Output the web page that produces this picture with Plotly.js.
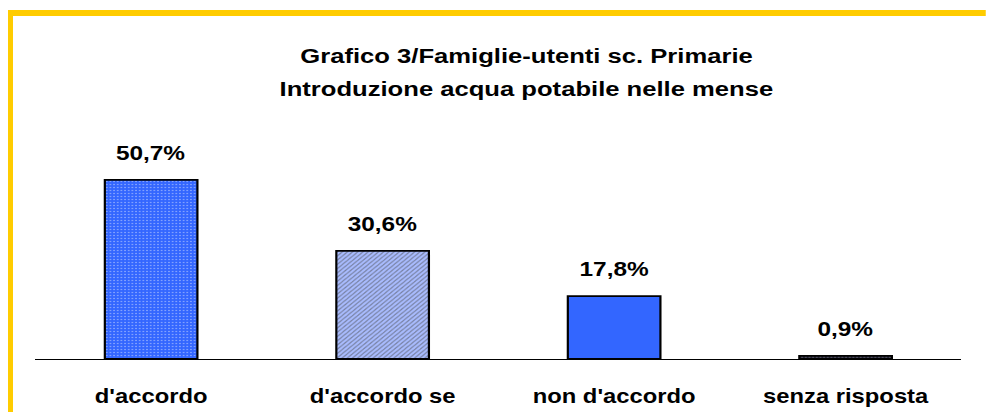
<!DOCTYPE html>
<html>
<head>
<meta charset="utf-8">
<script src="https://cdn.plot.ly/plotly-3.0.1.min.js"></script>
<style>
  html, body { margin: 0; padding: 0; background: #ffffff; overflow: hidden; }
  #chart { width: 808px; height: 412px; transform: scaleX(1.22); transform-origin: 0 0; }
</style>
</head>
<body>
<div id="chart"></div>
<script>
// ---- data ----
const categories = ["d'accordo", "d'accordo se", "non d'accordo", "senza risposta"];
const values = [50.7, 30.6, 17.8, 0.9];
const valueLabels = ["50,7%", "30,6%", "17,8%", "0,9%"];
const titleLine1 = "Grafico 3/Famiglie-utenti sc. Primarie";
const titleLine2 = "Introduzione acqua potabile nelle mense";

// ---- geometry (unscaled px) ----
const W = 808, H = 412;
const M = { l: 29, r: 20, t: 147, b: 53 };
const plotW = W - M.l - M.r, plotH = H - M.t - M.b;
const px = x => (x - M.l) / plotW;          // pixel x -> paper
const py = y => (H - M.b - y) / plotH;      // pixel y -> paper

const FONT = '"Liberation Sans", Arial, sans-serif';
const blue = '#3366FF';
const gold = '#FFCC00';

const trace = {
  type: 'bar',
  x: categories,
  y: values,
  width: 0.4,
  marker: {
    color: [blue, '#a9bcff', blue, '#222233'],
    line: { color: '#000000', width: 1.8 },
    pattern: {
      shape: ['.', '/', '', '.'],
      fgcolor: ['#6e8fff', '#3a6aff', blue, '#6680ff'],
      size: [3, 3, 3, 3],
      solidity: [0.15, 0.35, 0.3, 0.3],
      fillmode: 'overlay'
    }
  },
  hoverinfo: 'none'
};

const annotations = categories.map((c, i) => ({
  x: c, y: values[i], xref: 'x', yref: 'y',
  text: valueLabels[i], showarrow: false,
  yanchor: 'middle', yshift: 27,
  font: { family: FONT, size: 20, color: '#000000', weight: 'bold' }
}));
annotations.push({
  xref: 'paper', yref: 'paper', x: px(431.6), y: py(89),
  xanchor: 'center', yanchor: 'middle',
  text: titleLine2, showarrow: false,
  font: { family: FONT, size: 21, color: '#000000', weight: 'bold' }
});

const layout = {
  width: W, height: H,
  margin: M,
  paper_bgcolor: '#ffffff',
  plot_bgcolor: '#ffffff',
  showlegend: false,
  title: {
    text: titleLine1,
    xref: 'container', yref: 'container',
    x: 431.6 / W, y: 1 - 56 / H,
    xanchor: 'center', yanchor: 'middle',
    font: { family: FONT, size: 21, color: '#000000', weight: 'bold' }
  },
  xaxis: {
    type: 'category',
    showline: true, linecolor: '#000000', linewidth: 1,
    showgrid: false, zeroline: false,
    ticks: '', ticklabelstandoff: 20,
    tickfont: { family: FONT, size: 19.5, color: '#000000', weight: 'bold' },
    fixedrange: true
  },
  yaxis: {
    range: [0, 60],
    visible: false,
    showgrid: false, zeroline: false,
    fixedrange: true
  },
  annotations: annotations,
  shapes: [
    { type: 'rect', xref: 'paper', yref: 'paper', layer: 'above',
      x0: px(8 / 1.22), x1: px(W + 2), y0: py(10), y1: py(16),
      fillcolor: gold, line: { width: 0 } },
    { type: 'rect', xref: 'paper', yref: 'paper', layer: 'above',
      x0: px(8 / 1.22), x1: px(13 / 1.22), y0: py(10), y1: py(H + 2),
      fillcolor: gold, line: { width: 0 } }
  ]
};

Plotly.newPlot('chart', [trace], layout, { displayModeBar: false, staticPlot: true });
</script>
</body>
</html>
